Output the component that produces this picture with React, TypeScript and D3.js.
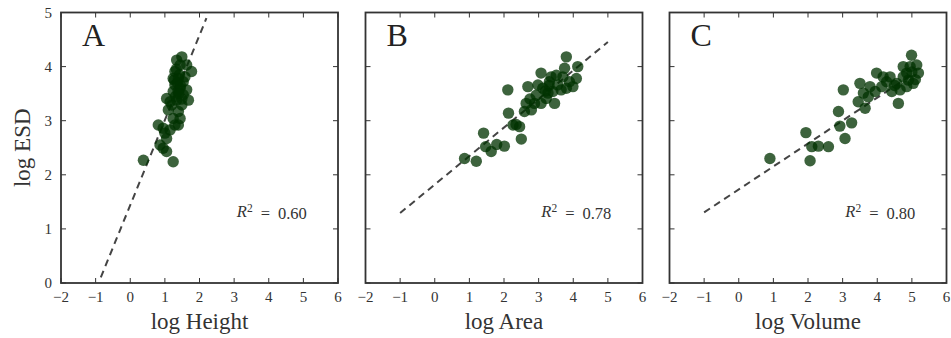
import React from "react";
import * as d3 from "d3";

// ---- data ----
const heightX = [0.38,1.24,0.81,0.95,0.86,0.95,1.05,1.0,1.15,1.05,1.24,1.1,1.49,1.77,1.29,1.39,1.29,1.44,1.24,1.53,1.34,1.49,1.2,1.39,1.53,1.63,1.44,1.34,1.63,1.15,1.24,1.58,1.39,1.05,1.49,1.68,1.29,1.44,1.36,1.42,1.31,1.38,1.33,1.45,1.27,1.4];
const heightY = [2.27,2.24,2.92,2.86,2.55,2.49,2.67,2.77,2.83,3.41,3.04,3.2,4.18,3.91,3.91,3.78,3.66,3.6,3.54,3.48,3.38,3.29,3.29,3.17,3.72,4.03,4.03,4.12,3.57,3.35,3.78,3.81,2.92,2.43,3.4,3.38,2.92,3.04,3.7,3.85,3.45,3.55,3.95,3.65,3.75,3.5];

const areaX = [0.86,1.2,1.41,1.47,1.79,2.01,2.11,2.13,2.35,2.45,2.5,2.69,2.64,2.79,2.93,3.07,3.12,3.22,3.31,3.41,3.46,3.55,3.7,3.8,3.75,3.89,3.99,4.13,4.09,3.8,3.51,2.88,2.59,2.98,3.27,3.07,3.65,3.36,1.63,2.26,3.2,3.3,2.75];
const areaY = [2.3,2.25,2.77,2.52,2.56,2.53,3.57,3.14,2.93,2.89,2.66,3.63,3.32,3.2,3.47,3.88,3.6,3.41,3.72,3.54,3.32,3.66,3.81,4.18,3.97,3.72,3.63,4.0,3.78,3.6,3.84,3.32,3.17,3.66,3.51,3.32,3.57,3.81,2.43,2.92,3.55,3.65,3.4];

const volumeX = [0.9,1.94,2.06,2.11,2.3,2.59,2.88,2.92,3.07,3.26,3.02,3.45,3.5,3.65,3.74,3.98,3.94,4.13,4.27,4.42,4.61,4.56,4.75,4.85,4.99,4.95,5.14,5.19,5.04,4.75,5.1,3.79,3.6,4.17,4.66,4.37,4.85,4.9,5.0,4.5];
const volumeY = [2.3,2.78,2.26,2.52,2.53,2.52,3.17,2.9,2.67,2.96,3.57,3.35,3.69,3.23,3.44,3.88,3.54,3.63,3.72,3.54,3.32,3.69,3.81,3.63,4.21,4.0,4.03,3.88,3.69,4.0,3.76,3.63,3.51,3.81,3.57,3.81,3.88,3.75,3.9,3.65];

const panelLetters = ["A", "B", "C"];
const xLabels = ["log Height", "log Area", "log Volume"];
const r2Values = ["0.60", "0.78", "0.80"];
// fitted lines: [xStart, xEnd, intercept, slope]
const fitLines = [
  [-0.85, 2.2, 1.44, 1.57],
  [-1, 5, 1.82, 0.527],
  [-1, 5, 1.73, 0.424],
];
const xTicks = [-2, -1, 0, 1, 2, 3, 4, 5, 6];
const yTicks = [0, 1, 2, 3, 4, 5];

const seriesX = [heightX, areaX, volumeX];
const seriesY = [heightY, areaY, volumeY];

// ---- layout ----
const W = 951, H = 338;
const lefts = [61, 365.5, 669.5];
const pw = 277;
const top = 12.5, bottom = 283;
const font = "'Liberation Serif', 'Times New Roman', serif";
const fmt = (v: number) => (v < 0 ? "\u2212" + Math.abs(v) : String(v));

function Panel({ i }: { i: number }) {
  const x = d3.scaleLinear().domain([-2, 6]).range([lefts[i], lefts[i] + pw]);
  const y = d3.scaleLinear().domain([0, 5]).range([bottom, top]);
  const [x0, x1, b, m] = fitLines[i];
  const line = d3.line<number>().x((d) => x(d)).y((d) => y(b + m * d));
  const tl = 5;
  const xs = seriesX[i], ys = seriesY[i];
  return (
    <g>
      <path d={line([x0, x1]) || ""} fill="none" stroke="#444" strokeWidth={2} strokeDasharray="7,5" />
      {xs.map((v, k) => (
        <circle key={k} cx={x(v)} cy={y(ys[k])} r={5.7} fill="#003200" fillOpacity={0.76} />
      ))}
      {xTicks.map((t) => (
        <g key={"x" + t}>
          <line x1={x(t)} x2={x(t)} y1={bottom} y2={bottom - tl} stroke="#333" strokeWidth={1} />
          <line x1={x(t)} x2={x(t)} y1={top} y2={top + tl} stroke="#333" strokeWidth={1} />
          <text x={x(t)} y={bottom + 19} textAnchor="middle" fontFamily={font} fontSize={15} fill="#333">
            {fmt(t)}
          </text>
        </g>
      ))}
      {yTicks.map((t) => (
        <g key={"y" + t}>
          <line x1={lefts[i]} x2={lefts[i] + tl} y1={y(t)} y2={y(t)} stroke="#333" strokeWidth={1} />
          <line x1={lefts[i] + pw} x2={lefts[i] + pw - tl} y1={y(t)} y2={y(t)} stroke="#333" strokeWidth={1} />
          {i === 0 && (
            <text x={lefts[i] - 9} y={y(t)} dy="0.35em" textAnchor="end" fontFamily={font} fontSize={15} fill="#333">
              {t}
            </text>
          )}
        </g>
      ))}
      <rect x={lefts[i]} y={top} width={pw} height={bottom - top} fill="none" stroke="#333" strokeWidth={1.8} />
      <text x={lefts[i] + 21} y={top + 33} fontFamily={font} fontSize={32} fill="#222">
        {panelLetters[i]}
      </text>
      <text x={x(5.1)} y={y(1.33)} dy="0.35em" textAnchor="end" fontFamily={font} fontSize={16.5} fill="#333">
        <tspan fontStyle="italic">R</tspan>
        <tspan dy="-0.45em" fontSize={11.5}>2</tspan>
        <tspan dy="0.45em" dx={8}>=</tspan>
        <tspan dx={8}>{r2Values[i]}</tspan>
      </text>
      <text x={lefts[i] + pw / 2} y={bottom + 46} textAnchor="middle" fontFamily={font} fontSize={23} fill="#333">
        {xLabels[i]}
      </text>
    </g>
  );
}

export default function App() {
  return (
    <svg width={W} height={H} style={{ position: "absolute", left: 0, top: 0, background: "#fff" }}>
      <rect width={W} height={H} fill="#fff" />
      {[0, 1, 2].map((i) => (
        <Panel key={i} i={i} />
      ))}
      <text
        transform={`translate(30,${(top + bottom) / 2}) rotate(-90)`}
        textAnchor="middle"
        fontFamily={font}
        fontSize={23}
        fill="#333"
      >
        log ESD
      </text>
    </svg>
  );
}
